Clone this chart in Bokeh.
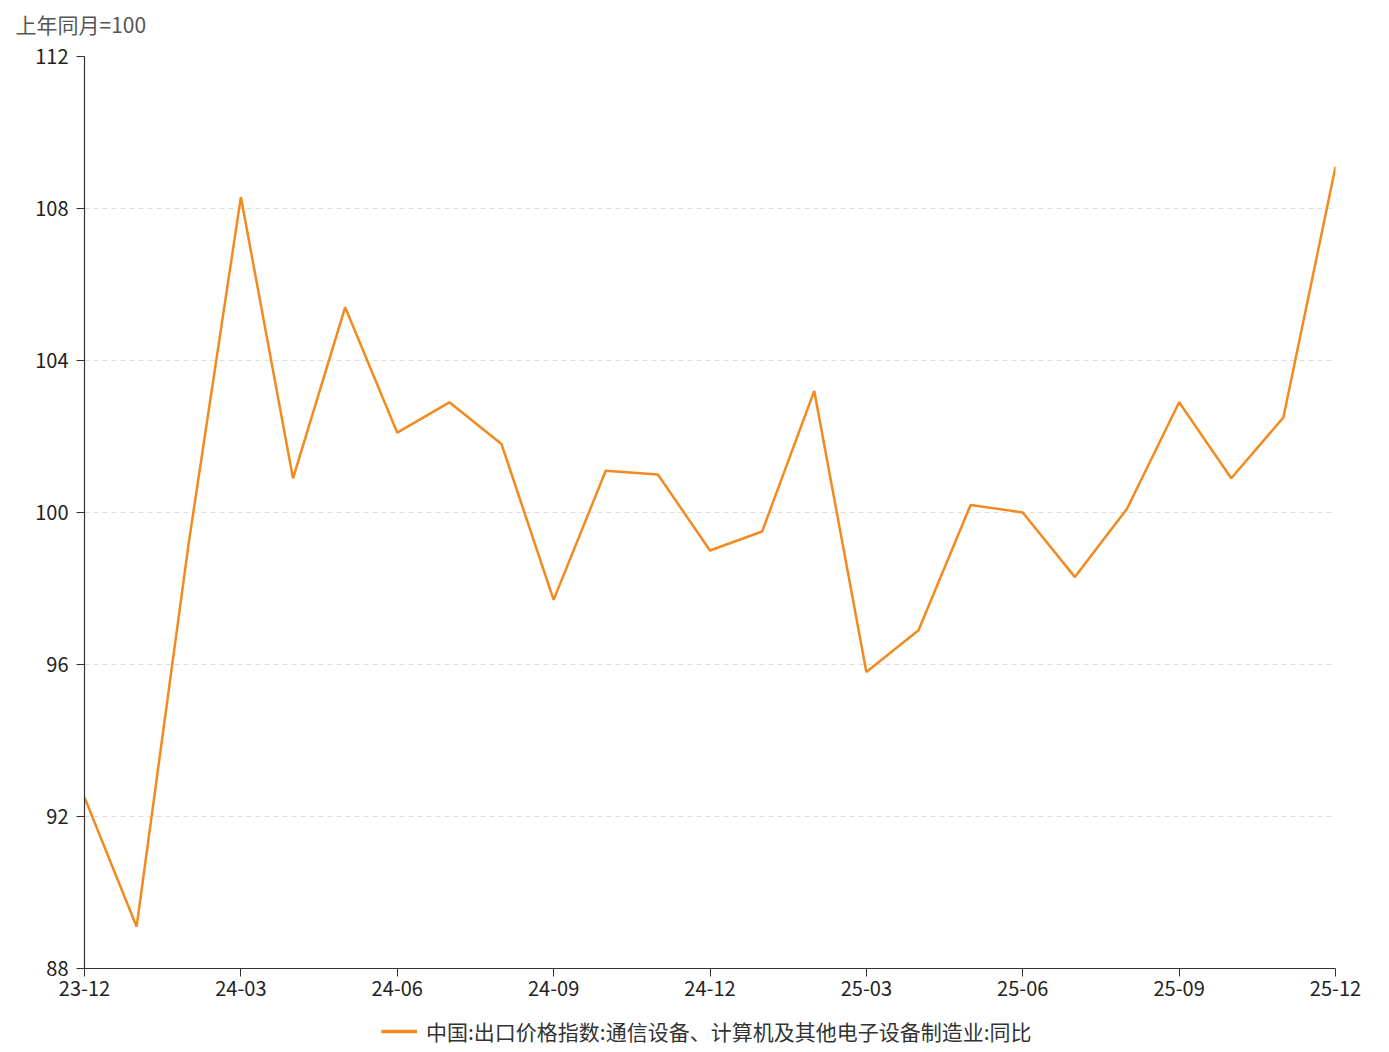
from bokeh.plotting import figure
from bokeh.layouts import column
from bokeh.models import Range1d, FixedTicker, Legend, LegendItem, Label
from bokeh.embed import file_html
from bokeh.resources import INLINE

months = ["23-12", "24-01", "24-02", "24-03", "24-04", "24-05", "24-06", "24-07", "24-08",
          "24-09", "24-10", "24-11", "24-12", "25-01", "25-02", "25-03", "25-04", "25-05",
          "25-06", "25-07", "25-08", "25-09", "25-10", "25-11", "25-12"]
values = [92.5, 89.1, 99.2, 108.3, 100.9, 105.4, 102.1, 102.9, 101.8,
          97.7, 101.1, 101.0, 99.0, 99.5, 103.2, 95.8, 96.9, 100.2,
          100.0, 98.3, 100.1, 102.9, 100.9, 102.5, 109.1]
y_ticks = [88, 92, 96, 100, 104, 108, 112]
series_name = "中国:出口价格指数:通信设备、计算机及其他电子设备制造业:同比"
unit_label = "上年同月=100"

FONT = "Noto Sans CJK SC"
LINE_COLOR = "#f28a1f"
xs = list(range(len(months)))

# unit label strip on top (own frame, not aligned with the chart frame)
tf = figure(width=1381, height=40, output_backend="svg", toolbar_location=None,
            x_range=Range1d(0, 1), y_range=Range1d(0, 1), frame_align=False,
            min_border_left=0, min_border_right=0, min_border_top=0, min_border_bottom=0)
tf.axis.visible = False
tf.grid.visible = False
tf.outline_line_color = None
tf.add_layout(Label(x=15, y=17, x_units="screen", y_units="screen", text=unit_label,
                    text_font=FONT, text_font_size="21px", text_color="#555555",
                    text_baseline="middle", text_align="left"))

p = figure(width=1381, height=968, output_backend="svg", toolbar_location=None,
           x_range=Range1d(0, len(months) - 1), y_range=Range1d(88, 112),
           min_border_left=84, min_border_right=46, min_border_top=16, min_border_bottom=40)
p.outline_line_color = None

r = p.line(xs, values, line_color=LINE_COLOR, line_width=2.5)

p.xaxis.ticker = FixedTicker(ticks=xs[::3])
p.xaxis.major_label_overrides = {i: months[i] for i in xs[::3]}
p.yaxis.ticker = FixedTicker(ticks=y_ticks)

for ax in (p.xaxis[0], p.yaxis[0]):
    ax.axis_line_color = "#333333"
    ax.axis_line_width = 1.2
    ax.major_tick_line_color = "#333333"
    ax.major_tick_out = 8
    ax.major_tick_in = 0
    ax.minor_tick_line_color = None
    ax.major_label_text_font = FONT
    ax.major_label_text_font_size = "20px"
    ax.major_label_text_color = "#222222"
p.yaxis.major_label_standoff = 8
p.xaxis.major_label_standoff = 4

p.xgrid.grid_line_color = None
p.ygrid.grid_line_color = "#dddddd"
p.ygrid.grid_line_dash = "5 4"

# legend strip below the chart (its frame is aligned with the main frame by column)
lf = figure(width=1381, height=44, output_backend="svg", toolbar_location=None,
            x_range=Range1d(0, 1), y_range=Range1d(0, 1),
            min_border_left=84, min_border_right=46, min_border_top=0, min_border_bottom=0)
lf.axis.visible = False
lf.grid.visible = False
lf.outline_line_color = None
# series drawn outside this strip's visible range: only its legend swatch shows
lr = lf.line(xs, values, line_color=LINE_COLOR, line_width=3.5)

legend = Legend(items=[LegendItem(label=series_name, renderers=[lr])],
                location=(297, 6), orientation="horizontal",
                label_text_font=FONT, label_text_font_size="21px",
                label_text_color="#333333", border_line_color=None,
                background_fill_alpha=0, glyph_width=36, spacing=0,
                padding=2, margin=0, label_standoff=9)
lf.add_layout(legend, "center")

layout = column(tf, p, lf, spacing=0)
open("out.html", "w").write(file_html(layout, INLINE))
